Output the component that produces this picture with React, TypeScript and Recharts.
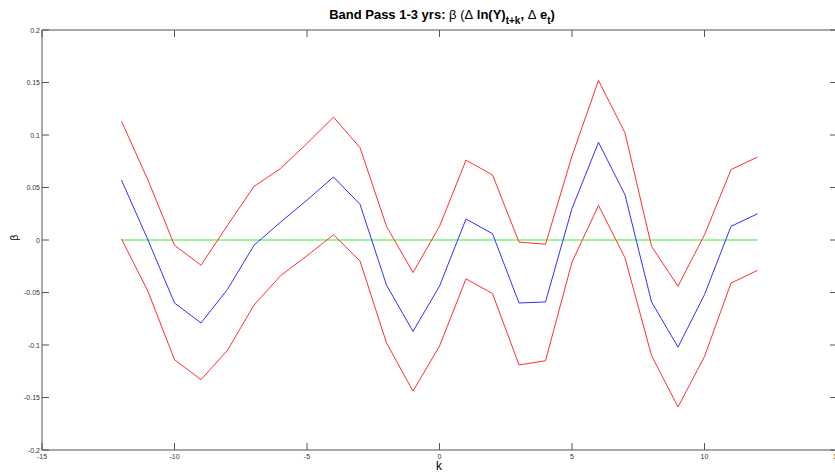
import React from "react";
import { LineChart, Line, XAxis, YAxis, ReferenceArea } from "recharts";

// lags k and the estimated coefficient with its confidence band
const kValues = [-12, -11, -10, -9, -8, -7, -6, -5, -4, -3, -2, -1, 0, 1, 2, 3, 4, 5, 6, 7, 8, 9, 10, 11, 12];
const beta = [0.057, 0.0, -0.06, -0.079, -0.047, -0.005, 0.017, 0.038, 0.06, 0.034, -0.043, -0.087, -0.044, 0.02, 0.006, -0.06, -0.059, 0.03, 0.093, 0.043, -0.059, -0.102, -0.052, 0.013, 0.025];
const upper = [0.113, 0.057, -0.005, -0.024, 0.014, 0.051, 0.068, 0.092, 0.117, 0.088, 0.013, -0.031, 0.013, 0.076, 0.062, -0.002, -0.004, 0.08, 0.152, 0.102, -0.006, -0.044, 0.005, 0.067, 0.079];
const lower = [0.001, -0.049, -0.114, -0.133, -0.105, -0.062, -0.034, -0.015, 0.005, -0.02, -0.098, -0.144, -0.101, -0.037, -0.051, -0.119, -0.115, -0.021, 0.033, -0.017, -0.11, -0.159, -0.111, -0.041, -0.029];
const zeroLine = kValues.map(() => 0);

const xTicks = [-15, -10, -5, 0, 5, 10, 15];
const yTicks = [-0.2, -0.15, -0.1, -0.05, 0, 0.05, 0.1, 0.15, 0.2];

const data = kValues.map((k, i) => ({ k, beta: beta[i], upper: upper[i], lower: lower[i], zero: zeroLine[i] }));

const PLOT_LEFT = 42;
const PLOT_RIGHT = 837;
const PLOT_TOP = 30;
const PLOT_BOTTOM = 450;
const TICK_LEN = 7;
const AXIS_COLOR = "#555";

const fmt = (v: number) => String(Math.round(v * 100) / 100);

const LeftTick = (props: any) => {
  const { y, payload } = props;
  return (
    <g>
      <text x={PLOT_LEFT - 2} y={y} textAnchor="end" dominantBaseline="central" fontSize={7} fill="#333" fontFamily="Liberation Sans, Arial, sans-serif">
        {fmt(payload.value)}
      </text>
      <line x1={PLOT_LEFT} x2={PLOT_LEFT + TICK_LEN} y1={y} y2={y} stroke={AXIS_COLOR} />
      <line x1={PLOT_RIGHT - TICK_LEN} x2={PLOT_RIGHT} y1={y} y2={y} stroke={AXIS_COLOR} />
    </g>
  );
};

const BottomTick = (props: any) => {
  const { x, payload } = props;
  return (
    <g>
      <text x={x} y={PLOT_BOTTOM + 6} textAnchor="middle" dominantBaseline="central" fontSize={7} fill="#333" fontFamily="Liberation Sans, Arial, sans-serif">
        {fmt(payload.value)}
      </text>
      <line x1={x} x2={x} y1={PLOT_BOTTOM} y2={PLOT_BOTTOM - TICK_LEN} stroke={AXIS_COLOR} />
      <line x1={x} x2={x} y1={PLOT_TOP} y2={PLOT_TOP + TICK_LEN} stroke={AXIS_COLOR} />
    </g>
  );
};

export default function App() {
  return (
    <div style={{ position: "absolute", left: 0, top: 0, width: 835, height: 472, overflow: "hidden", background: "#fff", fontFamily: "Liberation Sans, Arial, sans-serif" }}>
      <div style={{ position: "absolute", left: 0, top: 7, width: 884, textAlign: "center", fontSize: 13, fontWeight: "bold", color: "#000", lineHeight: "16px" }}>
        Band Pass 1-3 yrs: <span style={{ fontWeight: "normal" }}>β (Δ</span> ln(Y)<sub style={{ fontSize: 10, verticalAlign: -5 }}>t+k</sub>, <span style={{ fontWeight: "normal" }}>Δ</span> e<sub style={{ fontSize: 10, verticalAlign: -5 }}>t</sub>)
      </div>
      <div style={{ position: "absolute", left: 12, top: 232, fontSize: 10, transform: "rotate(-90deg)", color: "#000" }}>β</div>
      <div style={{ position: "absolute", left: 436, top: 461, fontSize: 12, lineHeight: "11px", color: "#000" }}>k</div>
      <LineChart width={840} height={472} data={data} margin={{ top: PLOT_TOP, right: 3, bottom: 0, left: 0 }}>
        <XAxis dataKey="k" type="number" domain={[-15, 15]} ticks={xTicks} height={472 - PLOT_BOTTOM} axisLine={false} tickLine={false} tick={<BottomTick />} interval={0} allowDataOverflow />
        <YAxis type="number" domain={[-0.2, 0.2]} ticks={yTicks} width={PLOT_LEFT} axisLine={false} tickLine={false} tick={<LeftTick />} interval={0} allowDataOverflow />
        <ReferenceArea x1={-15} x2={15} y1={-0.2} y2={0.2} fill="none" stroke={AXIS_COLOR} strokeWidth={1} ifOverflow="visible" />
        <Line dataKey="zero" stroke="#33ee33" strokeWidth={1} dot={false} isAnimationActive={false} />
        <Line dataKey="upper" stroke="#ff3030" strokeWidth={1} dot={false} isAnimationActive={false} />
        <Line dataKey="lower" stroke="#ff3030" strokeWidth={1} dot={false} isAnimationActive={false} />
        <Line dataKey="beta" stroke="#3030ff" strokeWidth={1} dot={false} isAnimationActive={false} />
      </LineChart>
    </div>
  );
}
